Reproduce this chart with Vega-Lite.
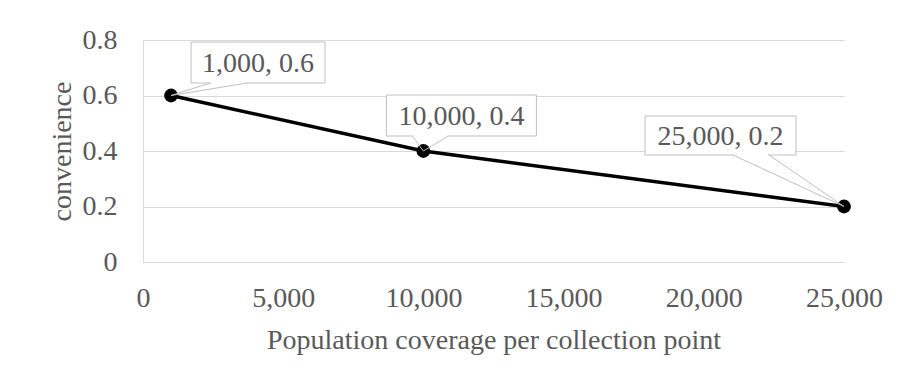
{
  "$schema": "https://vega.github.io/schema/vega-lite/v6.json",
  "width": 701,
  "height": 222,
  "autosize": {"type": "none"},
  "padding": {"left": 143, "top": 40, "right": 58, "bottom": 121},
  "background": "#ffffff",
  "config": {
    "font": "Liberation Serif",
    "view": {"stroke": null},
    "text": {"font": "Liberation Serif"},
    "axis": {
      "labelFont": "Liberation Serif",
      "titleFont": "Liberation Serif",
      "labelFontSize": 28,
      "titleFontSize": 28,
      "labelColor": "#595959",
      "titleColor": "#595959",
      "titleFontWeight": "normal",
      "ticks": false,
      "tickSize": 0,
      "gridColor": "#d9d9d9",
      "gridWidth": 1,
      "domainColor": "#d9d9d9",
      "domainWidth": 1
    }
  },
  "data": {
    "values": [
      {"population": 1000, "convenience": 0.6, "label": "1,000, 0.6"},
      {"population": 10000, "convenience": 0.4, "label": "10,000, 0.4"},
      {"population": 25000, "convenience": 0.2, "label": "25,000, 0.2"}
    ]
  },
  "encoding": {
    "x": {
      "field": "population",
      "type": "quantitative",
      "scale": {"domain": [0, 25000], "nice": false, "zero": true},
      "axis": {
        "title": "Population coverage per collection point",
        "values": [0, 5000, 10000, 15000, 20000, 25000],
        "format": ",d",
        "grid": false,
        "domain": true,
        "labelPadding": 22,
        "labelFlush": false,
        "titleY": 64,
        "titleBaseline": "top"
      }
    },
    "y": {
      "field": "convenience",
      "type": "quantitative",
      "scale": {"domain": [0, 0.8], "nice": false},
      "axis": {
        "title": "convenience",
        "values": [0, 0.2, 0.4, 0.6, 0.8],
        "format": ".1~f",
        "grid": true,
        "domain": true,
        "labelPadding": 26,
        "labelFlush": false,
        "titleAngle": -90,
        "titleX": -73,
        "titleY": 111,
        "titleAlign": "center",
        "titleBaseline": "alphabetic"
      }
    }
  },
  "layer": [
    {"mark": {"type": "line", "color": "#000000", "strokeWidth": 3.5}},
    {"mark": {"type": "point", "filled": true, "color": "#000000", "size": 190, "opacity": 1}},

    {
      "transform": [{"filter": "datum.population == 1000"}],
      "layer": [
        {
          "mark": {"type": "rect", "fill": "#ffffff", "stroke": "#bfbfbf", "strokeWidth": 1,
                   "xOffset": 20, "x2Offset": 154, "yOffset": -53.5, "y2Offset": -12.5},
          "encoding": {"x2": {"field": "population"}, "y2": {"field": "convenience"}}
        },
        {
          "mark": {"type": "rule", "color": "#ffffff", "strokeWidth": 2,
                   "xOffset": 40, "x2Offset": 75, "yOffset": -12.5, "y2Offset": -12.5},
          "encoding": {"x2": {"field": "population"}, "y2": {"field": "convenience"}}
        },
        {
          "mark": {"type": "rule", "color": "#bfbfbf", "strokeWidth": 1, "x2Offset": 39, "y2Offset": -12.5},
          "encoding": {"x2": {"field": "population"}, "y2": {"field": "convenience"}}
        },
        {
          "mark": {"type": "rule", "color": "#bfbfbf", "strokeWidth": 1, "x2Offset": 76, "y2Offset": -12.5},
          "encoding": {"x2": {"field": "population"}, "y2": {"field": "convenience"}}
        },
        {
          "mark": {"type": "text", "font": "Liberation Serif", "fontSize": 28, "color": "#595959",
                   "align": "center", "baseline": "middle", "dx": 87, "dy": -32},
          "encoding": {"text": {"field": "label"}}
        }
      ]
    },

    {
      "transform": [{"filter": "datum.population == 10000"}],
      "layer": [
        {
          "mark": {"type": "rect", "fill": "#ffffff", "stroke": "#bfbfbf", "strokeWidth": 1,
                   "xOffset": -37, "x2Offset": 113, "yOffset": -56, "y2Offset": -15},
          "encoding": {"x2": {"field": "population"}, "y2": {"field": "convenience"}}
        },
        {
          "mark": {"type": "rule", "color": "#ffffff", "strokeWidth": 2,
                   "xOffset": -10, "x2Offset": 24, "yOffset": -15, "y2Offset": -15},
          "encoding": {"x2": {"field": "population"}, "y2": {"field": "convenience"}}
        },
        {
          "mark": {"type": "rule", "color": "#bfbfbf", "strokeWidth": 1, "x2Offset": -11, "y2Offset": -15},
          "encoding": {"x2": {"field": "population"}, "y2": {"field": "convenience"}}
        },
        {
          "mark": {"type": "rule", "color": "#bfbfbf", "strokeWidth": 1, "x2Offset": 25, "y2Offset": -15},
          "encoding": {"x2": {"field": "population"}, "y2": {"field": "convenience"}}
        },
        {
          "mark": {"type": "text", "font": "Liberation Serif", "fontSize": 28, "color": "#595959",
                   "align": "center", "baseline": "middle", "dx": 38, "dy": -34.5},
          "encoding": {"text": {"field": "label"}}
        }
      ]
    },

    {
      "transform": [{"filter": "datum.population == 25000"}],
      "layer": [
        {
          "mark": {"type": "rect", "fill": "#ffffff", "stroke": "#bfbfbf", "strokeWidth": 1,
                   "xOffset": -199, "x2Offset": -48, "yOffset": -90.5, "y2Offset": -51.5},
          "encoding": {"x2": {"field": "population"}, "y2": {"field": "convenience"}}
        },
        {
          "mark": {"type": "rule", "color": "#ffffff", "strokeWidth": 2,
                   "xOffset": -110, "x2Offset": -76, "yOffset": -51.5, "y2Offset": -51.5},
          "encoding": {"x2": {"field": "population"}, "y2": {"field": "convenience"}}
        },
        {
          "mark": {"type": "rule", "color": "#bfbfbf", "strokeWidth": 1, "x2Offset": -111, "y2Offset": -51.5},
          "encoding": {"x2": {"field": "population"}, "y2": {"field": "convenience"}}
        },
        {
          "mark": {"type": "rule", "color": "#bfbfbf", "strokeWidth": 1, "x2Offset": -75, "y2Offset": -51.5},
          "encoding": {"x2": {"field": "population"}, "y2": {"field": "convenience"}}
        },
        {
          "mark": {"type": "text", "font": "Liberation Serif", "fontSize": 28, "color": "#595959",
                   "align": "center", "baseline": "middle", "dx": -123.5, "dy": -70},
          "encoding": {"text": {"field": "label"}}
        }
      ]
    }
  ]
}
